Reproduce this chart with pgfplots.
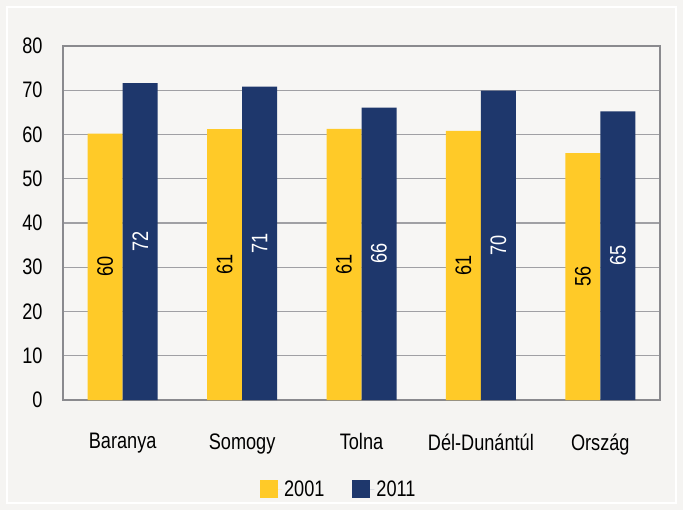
\documentclass[border=0pt]{standalone}
\usepackage{fontspec}
\setmainfont{Liberation Sans}[FakeStretch=0.81]
\usepackage{pgfplots}
\pgfplotsset{compat=1.18}
\definecolor{cyel}{HTML}{FFCA28}
\definecolor{cnav}{HTML}{1E376C}
\definecolor{cbg}{HTML}{F5F4F2}
\definecolor{cin}{HTML}{F7F6F4}
\definecolor{cgrid}{HTML}{A0A0A4}
\definecolor{caxis}{HTML}{8A8A8E}
\newcommand\tf{\fontsize{22.5}{26}\selectfont}
\begin{document}
\begin{tikzpicture}
\fill[cbg] (-63bp,-110bp) rectangle (620bp,400bp);
\draw[white, line width=2bp] (-56bp,-103bp) rectangle (613bp,393bp);
\begin{axis}[
  at={(0,0)}, anchor=south west,
  scale only axis, width=597bp, height=354bp,
  ybar=0pt, bar width=35bp,
  xmin=-0.5, xmax=4.5, ymin=0, ymax=80,
  xtick={0,1,2,3,4},
  xticklabels={Baranya,Somogy,Tolna,Dél-Dunántúl,Ország},
  ytick={0,10,...,80},
  major tick length=0pt,
  axis background/.style={fill=cin},
  axis line style={caxis, line width=1.6bp},
  ymajorgrids, major grid style={cgrid, line width=1.4bp},
  /pgf/number format/assume math mode=true,
  tick label style={font=\tf},
  yticklabel style={xshift=-17bp},
  xticklabel style={yshift=-30bp},
  legend style={at={(0.462,-0.252)}, anchor=center, draw=none, fill=none,
    legend columns=2, font=\tf,
    /tikz/every even column/.append style={column sep=26bp}},
  legend image code/.code={\fill[#1] (0bp,-9bp) rectangle (18bp,9bp);
    \path (0bp,0bp) -- (22bp,0bp);},
  visualization depends on={y \as \rawy},
  nodes near coords={\pgfmathprintnumber[fixed,precision=0]{\pgfplotspointmeta}},
  every node near coord/.append style={font=\tf,
    shift={(axis direction cs:0,-\rawy/2)}, rotate=90, anchor=center},
]
\addplot[fill=cyel, draw=none, every node near coord/.append style={text=black}] table[x=x, y=a] {
x a
0 60.2
1 61.2
2 61.3
3 60.8
4 55.8
};
\addplot[fill=cnav, draw=none, every node near coord/.append style={text=white}] table[x=x, y=b] {
x b
0 71.6
1 70.8
2 66.1
3 69.9
4 65.2
};
\legend{2001,2011}
\end{axis}
\pgfresetboundingbox
\path (-63bp,-110bp) rectangle (620bp,400bp);
\end{tikzpicture}
\end{document}
